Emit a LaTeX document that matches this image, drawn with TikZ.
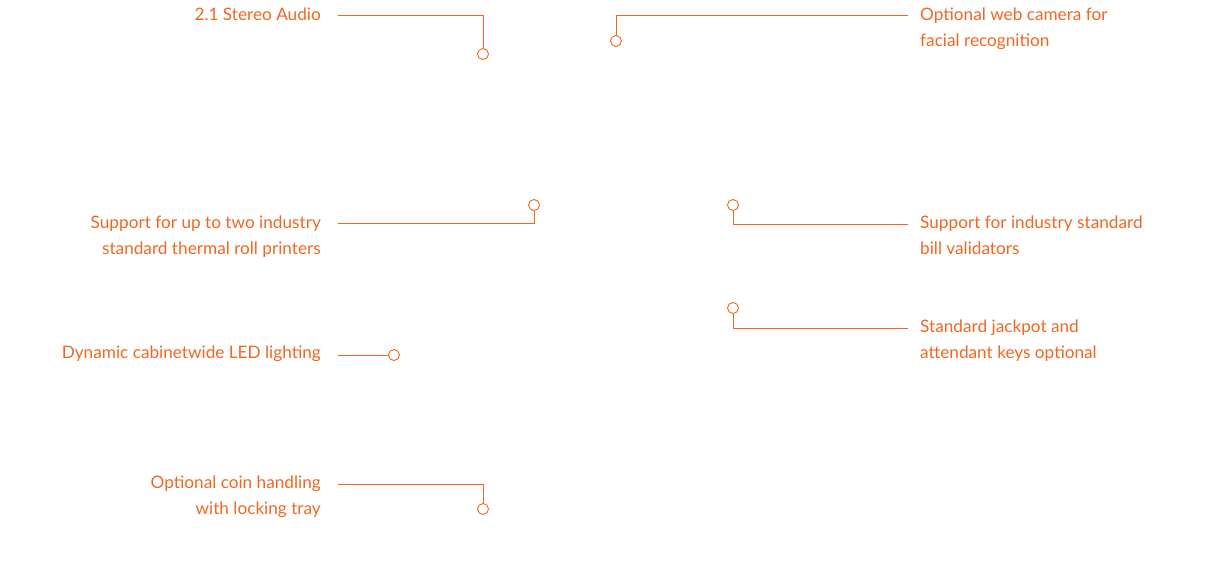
\documentclass[tikz,border=0pt]{standalone}
\usepackage{fontspec}
\setmainfont{Lato}
\definecolor{accent}{RGB}{240,102,34}
\begin{document}
\begin{tikzpicture}[x=1pt,y=-1pt,
  lbl/.style={text=accent,font=\fontsize{17.2}{26}\selectfont,inner sep=0pt},
  lblL/.style={lbl,align=right,anchor=base east},
  lblR/.style={lbl,align=left,anchor=base west},
  dot/.style={circle,draw=accent,line width=0.9pt,fill=white,minimum size=11pt,inner sep=0pt},
  lead/.style={draw=accent,line width=0.9pt}]
\useasboundingbox (0,0) rectangle (1230,576);
% left labels (base anchor = last line baseline)
\node[lblL] (t1) at (321,20) {2.1 Stereo Audio};
\node[lblL] (t3) at (321,254) {Support for up to two industry\\standard thermal roll printers};
\node[lblL] (t6) at (321,358) {Dynamic cabinetwide LED lighting};
\node[lblL] (t7) at (321,514) {Optional coin handling\\with locking tray};
% right labels
\node[lblR] (t2) at (920,46) {Optional web camera for\\facial recognition};
\node[lblR] (t4) at (920,254) {Support for industry standard\\bill validators};
\node[lblR] (t5) at (920,358) {Standard jackpot and\\attendant keys optional};
% dots
\node[dot] (c1) at (483,54) {};
\node[dot] (c2) at (616,41) {};
\node[dot] (c3) at (534,205) {};
\node[dot] (c4) at (733,205) {};
\node[dot] (c5) at (733,308) {};
\node[dot] (c6) at (394,355) {};
\node[dot] (c7) at (483,509) {};
% leader starts
\coordinate (s1) at (338,15);
\coordinate (s2) at (908,15);
\coordinate (s3) at (338,223);
\coordinate (s4) at (908,224);
\coordinate (s5) at (908,328);
\coordinate (s6) at (338,355);
\coordinate (s7) at (338,484);
\draw[lead] (s1) -| (c1);
\draw[lead] (s2) -| (c2);
\draw[lead] (s3) -| (c3);
\draw[lead] (s4) -| (c4);
\draw[lead] (s5) -| (c5);
\draw[lead] (s6) -- (c6);
\draw[lead] (s7) -| (c7);
\end{tikzpicture}
\end{document}
